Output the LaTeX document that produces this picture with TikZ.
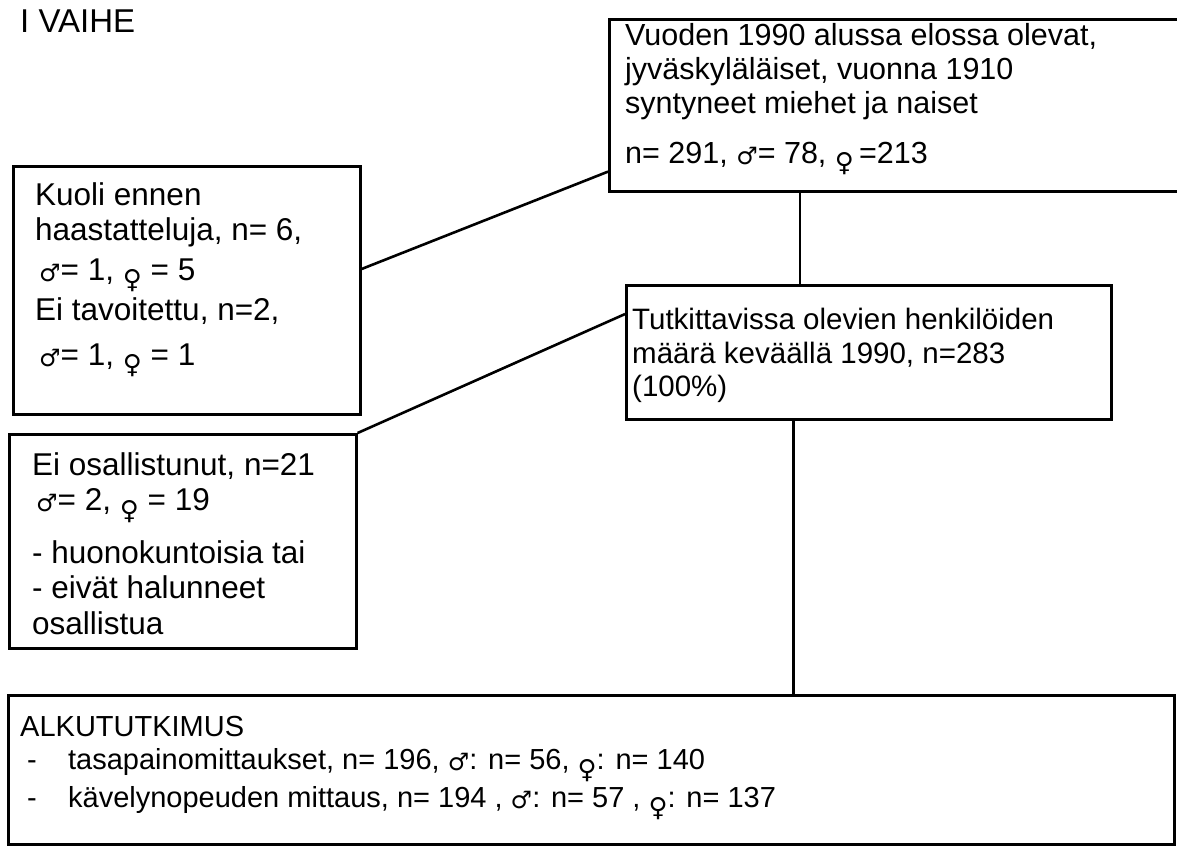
\documentclass[tikz,border=0pt]{standalone}
\usepackage{fontspec}
\setmainfont{Liberation Sans}
\newfontfamily\symfont{DejaVu Sans}
\usetikzlibrary{positioning, calc}

\newcommand{\mies}{{\symfont\bfseries\fontsize{24}{24}\selectfont\raisebox{-0.06em}{♂}}}
\newcommand{\nainen}{{\symfont\bfseries\fontsize{26}{26}\selectfont\raisebox{-0.33em}{♀}}}

\tikzset{
  laatikko/.style={draw, line width=2.6pt, inner sep=0pt, anchor=north west},
  teksti/.style={inner sep=0pt, anchor=north west, align=left},
  viiva/.style={line width=2.6pt}
}

\begin{document}
\begin{tikzpicture}[x=1pt, y=-1pt]
  \clip (0,0) rectangle (1177,849);
  \fill[white] (0,0) rectangle (1177,849);

  % otsikko
  \node[teksti, font=\fontsize{33}{36}\selectfont] (vaihe) at (20,10) {I VAIHE};

  % laatikot
  \node[laatikko, minimum width=620pt, minimum height=172pt] (perus) at (608,18) {};
  \node[laatikko, minimum width=347pt, minimum height=248pt] (kuoli) at (12,165) {};
  \node[laatikko, minimum width=485pt, minimum height=134pt] (tutk) at (625,284) {};
  \node[laatikko, minimum width=347pt, minimum height=214pt] (eiosall) at (8,433) {};
  \node[laatikko, minimum width=1166pt, minimum height=149pt] (alku) at (7,694) {};

  % tekstit
  \node[teksti, font=\fontsize{30.5}{34}\selectfont] (perusteksti) at (625,23)
    {Vuoden 1990 alussa elossa olevat,\\
     jyväskyläläiset, vuonna 1910\\
     syntyneet miehet ja naiset\\[16pt]
     n= 291, \mies= 78, \nainen\,=213};
  \node[teksti, font=\fontsize{31.5}{35}\selectfont] (kuoliteksti) at (35,182)
    {Kuoli ennen\\
     haastatteluja, n= 6,\\[5pt]
     \hspace{4pt}\mies= 1, \nainen\ = 5\\[5pt]
     Ei tavoitettu, n=2,\\[10pt]
     \hspace{4pt}\mies= 1, \nainen\ = 1};
  \node[teksti, font=\fontsize{29.5}{33.5}\selectfont] (tutkteksti) at (632,308)
    {Tutkittavissa olevien henkilöiden\\
     määrä keväällä 1990, n=283\\
     (100\%)};
  \node[teksti, font=\fontsize{31.5}{35.5}\selectfont] (eiosallteksti) at (32,452)
    {Ei osallistunut, n=21\\
     \hspace{4pt}\mies= 2, \nainen\ = 19\\[17pt]
     - huonokuntoisia tai\\
     - eivät halunneet\\
     osallistua};
  \node[teksti, font=\fontsize{29}{33}\selectfont] (alkuteksti) at (20,716)
    {ALKUTUTKIMUS\\
     \makebox[48pt][l]{\hspace{7pt}-}tasapainomittaukset, n= 196, \mies: n= 56, \nainen: n= 140\\[5pt]
     \makebox[48pt][l]{\hspace{7pt}-}kävelynopeuden mittaus, n= 194 , \mies: n= 57 , \nainen: n= 137};

  % yhdysviivat
  \draw[viiva] ($(kuoli.north east)!0.415!(kuoli.south east)$) -- ($(perus.north west)!0.88!(perus.south west)$);
  \draw[viiva] (eiosall.north east) -- ($(tutk.north west)!0.22!(tutk.south west)$);
  \coordinate (ylaliitos) at ($(tutk.north west)!0.359!(tutk.north east)$);
  \draw[viiva] (ylaliitos) -- (ylaliitos |- perus.south);
  \coordinate (alaliitos) at ($(tutk.south west)!0.346!(tutk.south east)$);
  \draw[viiva] (alaliitos) -- (alaliitos |- alku.north);
\end{tikzpicture}
\end{document}
